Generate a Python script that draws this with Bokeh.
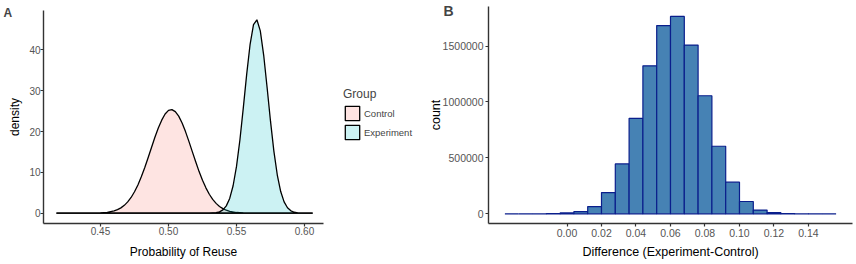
from bokeh.plotting import figure
from bokeh.layouts import row
from bokeh.models import (Range1d, FixedTicker, Legend, LegendItem, Label,
                          LinearAxis)
from bokeh.embed import file_html
from bokeh.resources import INLINE

# ---------------- data: panel A (posterior densities) ----------------
control_x = [0.4176, 0.44, 0.445, 0.45, 0.455, 0.46, 0.4625, 0.465, 0.4675, 0.47, 0.4725,
             0.475, 0.4775, 0.48, 0.4825, 0.485, 0.4875, 0.49, 0.4925, 0.495, 0.4975,
             0.50, 0.5025, 0.505, 0.5075, 0.51, 0.5125, 0.515, 0.5175, 0.52, 0.5225,
             0.525, 0.5275, 0.53, 0.5325, 0.535, 0.5375, 0.54, 0.5425, 0.545, 0.55,
             0.555, 0.56, 0.565, 0.606]
control_y = [0.0, 0.006, 0.02, 0.07, 0.21, 0.56, 0.87, 1.31, 1.93, 2.77, 3.86,
             5.25, 6.93, 8.92, 11.15, 13.6, 16.1, 18.6, 20.9, 22.8, 24.3,
             25.2, 25.4, 24.9, 23.8, 22.1, 20.0, 17.6, 15.1, 12.6, 10.2,
             8.08, 6.22, 4.65, 3.39, 2.41, 1.66, 1.12, 0.73, 0.46, 0.17,
             0.06, 0.02, 0.005, 0.0]
experiment_x = [0.4176, 0.53, 0.535, 0.5375, 0.54, 0.5425, 0.545, 0.5475, 0.55, 0.5525,
                0.555, 0.5575, 0.56, 0.5625, 0.565, 0.5675, 0.57, 0.5725, 0.575, 0.5775,
                0.58, 0.5825, 0.585, 0.5875, 0.59, 0.5925, 0.595, 0.5975, 0.60, 0.606]
experiment_y = [0.0, 0.02, 0.13, 0.34, 0.82, 1.8, 3.63, 6.73, 11.47, 17.95,
                25.8, 34.1, 41.4, 46.2, 47.4, 44.7, 38.7, 30.8, 22.55, 15.14,
                9.36, 5.31, 2.78, 1.33, 0.59, 0.24, 0.09, 0.03, 0.01, 0.0]
group_labels = ["Control", "Experiment"]
a_xticks = [0.45, 0.50, 0.55, 0.60]
a_xtick_labels = ["0.45", "0.50", "0.55", "0.60"]
a_yticks = [0, 10, 20, 30, 40]

# ---------------- data: panel B (histogram of differences) ----------------
bin_edges = [-0.036, -0.028, -0.020, -0.012, -0.004, 0.004, 0.012, 0.020, 0.028,
             0.036, 0.044, 0.052, 0.060, 0.068, 0.076, 0.084, 0.092, 0.100,
             0.108, 0.116, 0.124, 0.132, 0.140, 0.148, 0.156]
bin_counts = [0, 0, 200, 1500, 8000, 20000, 65000, 190000, 446000, 854000,
              1324000, 1684000, 1765000, 1509000, 1056000, 604000, 283000,
              110000, 33000, 10000, 2000, 500, 100, 0]
b_xticks = [0.00, 0.02, 0.04, 0.06, 0.08, 0.10, 0.12, 0.14]
b_xtick_labels = ["0.00", "0.02", "0.04", "0.06", "0.08", "0.10", "0.12", "0.14"]
b_yticks = [0, 500000, 1000000, 1500000]
b_ytick_labels = ["0", "500000", "1000000", "1500000"]

FONT = "Liberation Sans"
AXIS_COL = "#333333"
TICK_LAB_COL = "#555555"


def make_axis(label, ticks, overrides, bounds, fixed, tick_size, title_size,
              tick_standoff, title_standoff):
    ax = LinearAxis(axis_label=label, ticker=FixedTicker(ticks=ticks),
                    bounds=bounds, fixed_location=fixed)
    if overrides:
        ax.major_label_overrides = overrides
    ax.axis_line_color = AXIS_COL
    ax.axis_line_width = 1.4
    ax.major_tick_line_color = AXIS_COL
    ax.major_tick_line_width = 1.2
    ax.major_tick_out = 3
    ax.major_tick_in = 0
    ax.minor_tick_line_color = None
    ax.major_label_text_font = FONT
    ax.major_label_text_font_size = tick_size
    ax.major_label_text_color = TICK_LAB_COL
    ax.major_label_standoff = tick_standoff
    ax.axis_label_text_font = FONT
    ax.axis_label_text_font_size = title_size
    ax.axis_label_text_font_style = "normal"
    ax.axis_label_text_color = "black"
    ax.axis_label_standoff = title_standoff
    return ax


def base_figure(width, xr, yr):
    p = figure(width=width, height=264, output_backend="svg", toolbar_location=None,
               x_range=Range1d(*xr), y_range=Range1d(*yr),
               x_axis_type=None, y_axis_type=None,
               min_border_left=0, min_border_right=0, min_border_top=0,
               min_border_bottom=0)
    p.xgrid.grid_line_color = None
    p.ygrid.grid_line_color = None
    p.outline_line_color = None
    return p


# ---------------- panel A ----------------
pA = base_figure(420, (0.37647, 0.68529), (-12.57, 52.13))
pA.add_layout(make_axis("Probability of Reuse", a_xticks,
                        dict(zip(a_xticks, a_xtick_labels)),
                        (0.40809, 0.61397), -2.525, "10px", "12px", 0, 7), "below")
pA.add_layout(make_axis("density", a_yticks, None, (-2.525, 49.7), 0.40809,
                        "10px", "12px", 0, 4), "left")

rc = pA.patch(control_x, control_y, fill_color="#F8766D", fill_alpha=0.2,
              line_color="black", line_width=1.3)
re = pA.patch(experiment_x, experiment_y, fill_color="#00BFC4", fill_alpha=0.2,
              line_color="black", line_width=1.3)

legend = Legend(items=[LegendItem(label=group_labels[0], renderers=[rc]),
                       LegendItem(label=group_labels[1], renderers=[re])],
                title="Group", title_text_font=FONT, title_text_font_size="12px",
                title_text_font_style="normal", title_standoff=3,
                label_text_font=FONT, label_text_font_size="9.5px",
                glyph_width=18, glyph_height=18, spacing=1, padding=0,
                label_standoff=3, border_line_color=None,
                background_fill_alpha=0, location=(343, 123), margin=0)
pA.add_layout(legend)

pA.add_layout(Label(x=3, y=259, x_units="screen", y_units="screen", text="A",
                    text_font=FONT, text_font_style="bold", text_font_size="12px",
                    text_baseline="top", text_align="left"))

# ---------------- panel B ----------------
pB = base_figure(436, (-0.08493, 0.16783), (-453486, 1907862))
pB.add_layout(make_axis("Difference (Experiment-Control)", b_xticks,
                        dict(zip(b_xticks, b_xtick_labels)),
                        (-0.04551, 0.16551), -86762, "10.5px", "12.5px", 2, 5), "below")
pB.add_layout(make_axis("count", b_yticks, dict(zip(b_yticks, b_ytick_labels)),
                        (-86762, 1854195), -0.04551, "10.5px", "12.5px", 2, -3), "left")

pB.quad(left=bin_edges[:-1], right=bin_edges[1:], top=bin_counts, bottom=0,
        fill_color="#4682B4", line_color="#0A1E8C", line_width=1.2)

pB.add_layout(Label(x=23, y=262, x_units="screen", y_units="screen", text="B",
                    text_font=FONT, text_font_style="bold", text_font_size="14px",
                    text_baseline="top", text_align="left"))

layout = row(pA, pB)

open("out.html", "w").write(file_html(layout, INLINE))
